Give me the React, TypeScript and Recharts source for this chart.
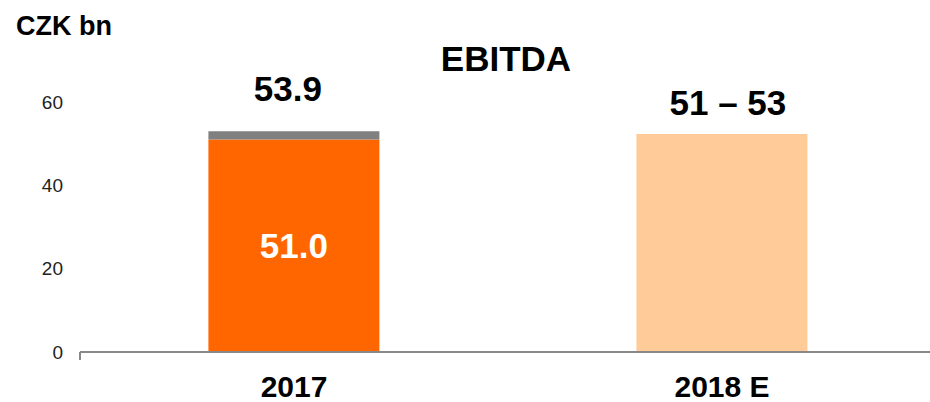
import React from "react";
import { BarChart, Bar, XAxis, YAxis, LabelList } from "recharts";

const categories = ["2017", "2018 E"];
const reported = [51.0, null];
const otherPart = [2.0, null];
const estimate = [null, 52.3];
const topLabels = ["53.9", "51 – 53"];
const innerLabels = ["51.0", ""];
const yTicks = [0, 20, 40, 60];
const edgeTicks = [0, 1, 2];

const data = categories.map((name, i) => ({
  name,
  reported: reported[i],
  other: otherPart[i],
  estimate: estimate[i],
  top: topLabels[i],
  inner: innerLabels[i],
}));

const FONT = '"Liberation Sans", Arial, sans-serif';

const topLabel = (offset: number, dx: number) => (props: any) => {
  const { x, y, width, value } = props;
  if (!value) return null;
  return (
    <text
      x={Number(x) + Number(width) / 2 + dx}
      y={Number(y) - offset}
      textAnchor="middle"
      fontFamily={FONT}
      fontWeight="bold"
      fontSize={35}
      fill="#000"
    >
      {value}
    </text>
  );
};

const innerLabel = (props: any) => {
  const { x, y, width, height, value } = props;
  if (!value) return null;
  return (
    <text
      x={Number(x) + Number(width) / 2}
      y={Number(y) + Number(height) / 2}
      dy="0.355em"
      textAnchor="middle"
      fontFamily={FONT}
      fontWeight="bold"
      fontSize={35}
      fill="#fff"
    >
      {value}
    </text>
  );
};

export default function App() {
  return (
    <div style={{ position: "absolute", left: 0, top: 0, width: 930, height: 402, background: "#fff" }}>
      <BarChart
        width={930}
        height={402}
        data={data}
        margin={{ top: 102, right: -6, bottom: 0, left: 0 }}
        barCategoryGap="30%"
      >
        <XAxis
          xAxisId="a_edge"
          type="number"
          domain={[0, 2]}
          ticks={edgeTicks}
          allowDataOverflow
          height={1}
          tick={() => <g />}
          tickSize={8}
          axisLine={{ stroke: "#888", strokeWidth: 2 }}
          tickLine={{ stroke: "#888", strokeWidth: 2 }}
        />
        <XAxis
          xAxisId="b_cat"
          dataKey="name"
          height={49}
          axisLine={false}
          tickLine={false}
          tickMargin={17}
          tick={{ fontFamily: FONT, fontWeight: "bold", fontSize: 30, fill: "#000" }}
        />
        <YAxis
          width={80}
          domain={[0, 60]}
          ticks={yTicks}
          axisLine={false}
          tickLine={false}
          tickMargin={11}
          tick={{ fontFamily: FONT, fontSize: 19, fill: "#222" }}
        />
        <Bar xAxisId="b_cat" dataKey="reported" stackId="a" fill="#FF6600" isAnimationActive={false}>
          <LabelList dataKey="inner" content={innerLabel} />
        </Bar>
        <Bar xAxisId="b_cat" dataKey="other" stackId="a" fill="#808080" isAnimationActive={false}>
          <LabelList dataKey="top" content={topLabel(30, -6)} />
        </Bar>
        <Bar xAxisId="b_cat" dataKey="estimate" stackId="a" fill="#FFCC99" isAnimationActive={false}>
          <LabelList dataKey="top" content={topLabel(19, 6)} />
        </Bar>
      </BarChart>
      <svg
        width={930}
        height={402}
        style={{ position: "absolute", left: 0, top: 0, pointerEvents: "none" }}
      >
        <text x={16} y={35} fontFamily={FONT} fontWeight="bold" fontSize={27} fill="#000">
          CZK bn
        </text>
        <text x={506} y={71} textAnchor="middle" fontFamily={FONT} fontWeight="bold" fontSize={35} fill="#000">
          EBITDA
        </text>
      </svg>
    </div>
  );
}
